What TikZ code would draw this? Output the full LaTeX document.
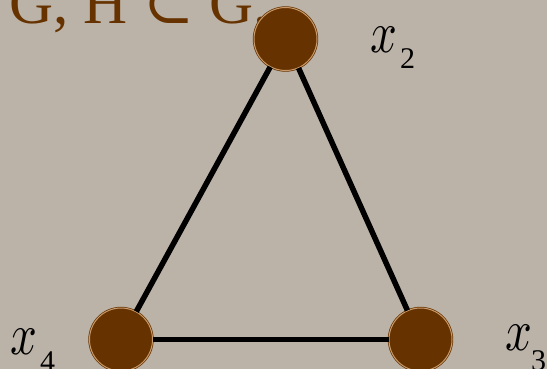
\documentclass[tikz,border=0pt]{standalone}
\usepackage{fontspec}
\setmainfont{Liberation Serif}
\newfontfamily\symfont{DejaVu Serif}
\definecolor{bg}{HTML}{BCB3A8}
\definecolor{brn}{HTML}{663300}
\definecolor{ring}{HTML}{C8996A}
\newcommand{\bigx}{\scalebox{4.7}[5.9]{$x$}}
\tikzset{
  vert/.style={circle, fill=brn, draw=brn, double=ring, double distance=1pt, line width=0.7pt, inner sep=0pt, minimum size=63pt},
  edge/.style={line width=5.5pt, black},
  lbl/.style={anchor=base west, inner sep=0pt},
  sub/.style={anchor=base west, inner sep=0pt, font=\fontsize{30}{30}\selectfont}
}
\begin{document}
\begin{tikzpicture}[x=1pt, y=-1pt]
\fill[bg] (0,0) rectangle (547,369);
\useasboundingbox (0,0) rectangle (547,369);
\node[anchor=base west, inner sep=0pt, text=brn, font=\fontsize{61}{62}\selectfont] (title) at (9,24) {G, H {\symfont ⊂} G.};
\node[vert] (x2) at (285.5,39) {};
\node[vert] (x4) at (121,339.5) {};
\node[vert] (x3) at (420.5,339.5) {};
\draw[edge] (x2) -- (x4);
\draw[edge] (x2) -- (x3);
\draw[edge] (x4) -- (x3);
\node[lbl] (l2) at (370,53) {\bigx};
\node[sub] (s2) at (400,69) {2};
\node[lbl] (l4) at (10,354) {\bigx};
\node[sub] (s4) at (40,371) {4};
\node[lbl] (l3) at (505,350) {\bigx};
\node[sub] (s3) at (531,370) {3};
\end{tikzpicture}
\end{document}
